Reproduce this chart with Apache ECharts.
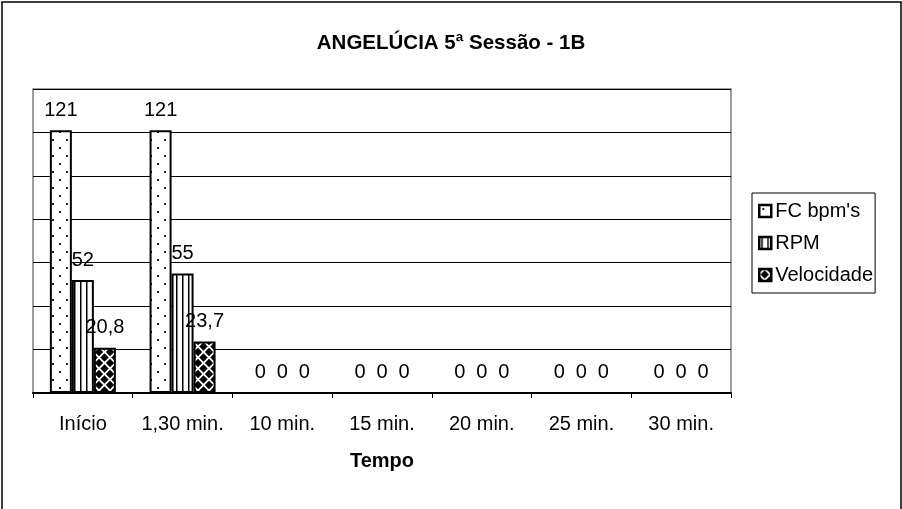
<!DOCTYPE html>
<html>
<head>
<meta charset="utf-8">
<script src="https://cdn.jsdelivr.net/npm/echarts@6/dist/echarts.min.js"></script>
<style>
html,body{margin:0;padding:0;background:#fff;}
#c{width:902px;height:509px;}
</style>
</head>
<body>
<div id="c"></div>
<script>
var categories = ['Início', '1,30 min.', '10 min.', '15 min.', '20 min.', '25 min.', '30 min.'];
var seriesNames = ["FC bpm's", 'RPM', 'Velocidade'];
var fcValues = [121, 121, 0, 0, 0, 0, 0];
var rpmValues = [52, 55, 0, 0, 0, 0, 0];
var velValues = [20.8, 23.7, 0, 0, 0, 0, 0];
var titleText = 'ANGELÚCIA 5ª Sessão - 1B';
var xAxisTitle = 'Tempo';

function makeCanvas(w, h, draw) {
  var c = document.createElement('canvas');
  c.width = w; c.height = h;
  var ctx = c.getContext('2d');
  ctx.fillStyle = '#fff';
  ctx.fillRect(0, 0, w, h);
  draw(ctx);
  return c;
}
var dotPattern = makeCanvas(14, 16, function (ctx) {
  ctx.fillStyle = '#222';
  ctx.fillRect(3, 3, 2, 2);
  ctx.fillRect(10, 11, 2, 2);
});
var stripePattern = makeCanvas(6, 4, function (ctx) {
  ctx.fillStyle = '#000';
  ctx.fillRect(2, 0, 1.5, 4);
});
var diamondPattern = makeCanvas(11, 11, function (ctx) {
  ctx.fillStyle = '#000';
  function dia(cx, cy, r) {
    ctx.beginPath();
    ctx.moveTo(cx, cy - r); ctx.lineTo(cx + r, cy); ctx.lineTo(cx, cy + r); ctx.lineTo(cx - r, cy);
    ctx.closePath(); ctx.fill();
  }
  dia(5.5, 5.5, 4.2);
  dia(0, 0, 4.2); dia(11, 0, 4.2); dia(0, 11, 4.2); dia(11, 11, 4.2);
});

var FONT = "'Liberation Sans', Arial, sans-serif";
function fmt(p) { return String(p.value).replace('.', ','); }
function mkSeries(name, data, pat) {
  return {
    name: name,
    type: 'bar',
    data: data,
    barWidth: 22,
    barGap: '0%',
    z: 2,
    itemStyle: { color: { image: pat, repeat: 'repeat' }, borderColor: '#000', borderWidth: 2 },
    label: { show: true, position: 'top', distance: 10, formatter: fmt, color: '#000', fontSize: 20, fontFamily: FONT },
    emphasis: { disabled: true }
  };
}

var chart = echarts.init(document.getElementById('c'), null, { renderer: 'canvas' });
chart.setOption({
  animation: false,
  backgroundColor: '#fff',
  textStyle: { fontFamily: FONT },
  title: {
    text: titleText,
    left: 'center',
    top: 33,
    padding: 0,
    textStyle: { fontSize: 20.5, fontWeight: 'bold', color: '#000', fontFamily: FONT }
  },
  legend: {
    orient: 'vertical',
    left: 752,
    top: 193,
    padding: [8, 2, 8, 6],
    itemGap: 12,
    itemWidth: 12,
    itemHeight: 12,
    icon: 'rect',
    borderColor: '#000',
    borderWidth: 1,
    backgroundColor: '#fff',
    itemStyle: { borderColor: '#000', borderWidth: 2.5 },
    textStyle: { fontSize: 20, color: '#000', fontFamily: FONT, padding: [0, 0, 0, -1] },
    data: seriesNames
  },
  grid: { left: 33, right: 171, top: 89, bottom: 116, show: true, borderColor: '#808080', borderWidth: 1.5, backgroundColor: '#fff' },
  xAxis: {
    type: 'category',
    data: categories,
    z: 5,
    name: xAxisTitle,
    nameLocation: 'middle',
    nameGap: 58,
    nameTextStyle: { fontSize: 20, fontWeight: 'bold', color: '#000', fontFamily: FONT },
    axisLine: { lineStyle: { color: '#000', width: 2 } },
    axisTick: { show: true, length: 5, lineStyle: { color: '#000' } },
    axisLabel: { interval: 0, fontSize: 20, color: '#000', margin: 21, fontFamily: FONT }
  },
  yAxis: {
    type: 'value',
    min: 0,
    max: 140,
    interval: 20,
    axisLine: { show: false },
    axisTick: { show: false },
    axisLabel: { show: false },
    splitLine: { lineStyle: { color: '#000', width: 1 } }
  },
  graphic: [{
    type: 'rect',
    shape: { x: 2, y: 2, width: 899, height: 530 },
    style: { fill: 'none', stroke: '#000', lineWidth: 1.5 },
    silent: true
  }],
  series: [
    mkSeries(seriesNames[0], fcValues, dotPattern),
    mkSeries(seriesNames[1], rpmValues, stripePattern),
    mkSeries(seriesNames[2], velValues, diamondPattern)
  ]
});
</script>
</body>
</html>
